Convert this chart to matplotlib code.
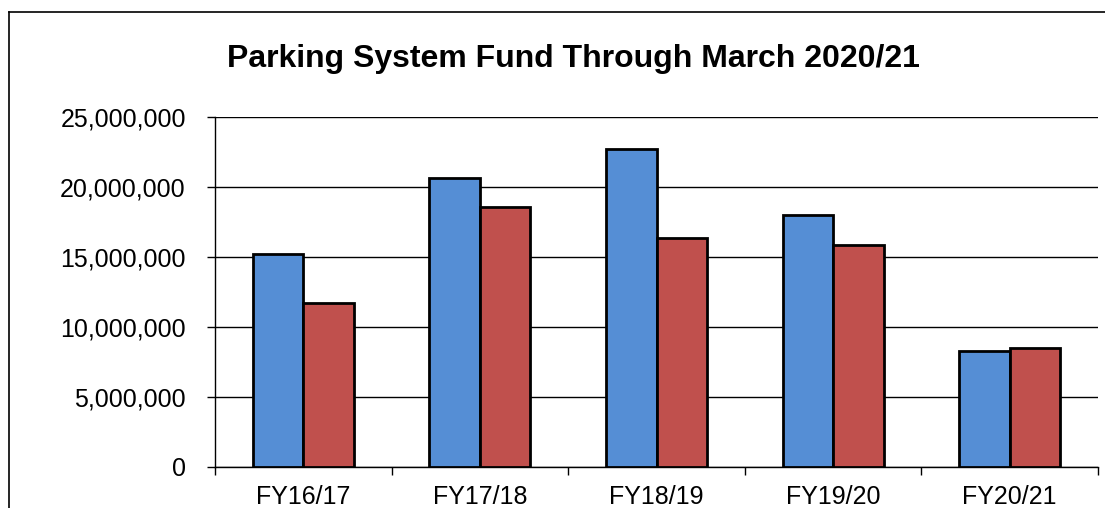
import matplotlib

matplotlib.use("Agg")
import matplotlib.pyplot as plt
import numpy as np
from matplotlib.lines import Line2D
from matplotlib.ticker import FuncFormatter

# values
years = ["FY16/17", "FY17/18", "FY18/19", "FY19/20", "FY20/21"]
series_blue = [15_190_000, 20_620_000, 22_690_000, 17_980_000, 8_290_000]
series_red = [11_740_000, 18_550_000, 16_360_000, 15_880_000, 8_520_000]
yticks = [0, 5_000_000, 10_000_000, 15_000_000, 20_000_000, 25_000_000]

plt.rcParams["font.family"] = ["Liberation Sans", "DejaVu Sans"]

fig = plt.figure(figsize=(11.05, 5.08), dpi=100)
ax = fig.add_axes([215 / 1105, 1 - 467 / 508, (1098 - 215) / 1105, (467 - 117) / 508])

x = np.arange(len(years))
w = 1 / 3.5
ax.bar(x - w / 2, series_blue, width=w, color="#558ED5", edgecolor="black", linewidth=2, zorder=3)
ax.bar(x + w / 2, series_red, width=w, color="#C0504D", edgecolor="black", linewidth=2, zorder=3)

ax.set_xlim(-0.5, len(years) - 0.5)
ax.set_ylim(0, 25_000_000)
ax.set_yticks(yticks)
ax.yaxis.set_major_formatter(FuncFormatter(lambda v, _: f"{int(v):,}"))
ax.tick_params(axis="y", direction="out", length=6, width=1, pad=15, labelsize=18)

ax.set_xticks(x)
ax.set_xticklabels(years)
ax.set_xticks(np.arange(-0.5, len(years)), minor=True)
ax.tick_params(axis="x", which="major", length=0, pad=13, labelsize=18)
ax.tick_params(axis="x", which="minor", direction="out", length=6, width=1)

ax.grid(axis="y", color="black", linewidth=1, zorder=0)
ax.set_axisbelow(True)
for s in ("top", "right"):
    ax.spines[s].set_visible(False)
for s in ("left", "bottom"):
    ax.spines[s].set_linewidth(1)

fig.text(573 / 1105, 1 - 59 / 508, "Parking System Fund Through March 2020/21",
         ha="center", va="center", fontsize=23, fontweight="bold")

# chart frame (clipped at right and bottom in the reference)
fig.add_artist(Line2D([9 / 1105, 9 / 1105], [0, 1 - 12 / 508], transform=fig.transFigure,
                      color="black", linewidth=1.2))
fig.add_artist(Line2D([9 / 1105, 1], [1 - 12 / 508, 1 - 12 / 508], transform=fig.transFigure,
                      color="black", linewidth=1.2))

fig.savefig("out.png", dpi=100)
